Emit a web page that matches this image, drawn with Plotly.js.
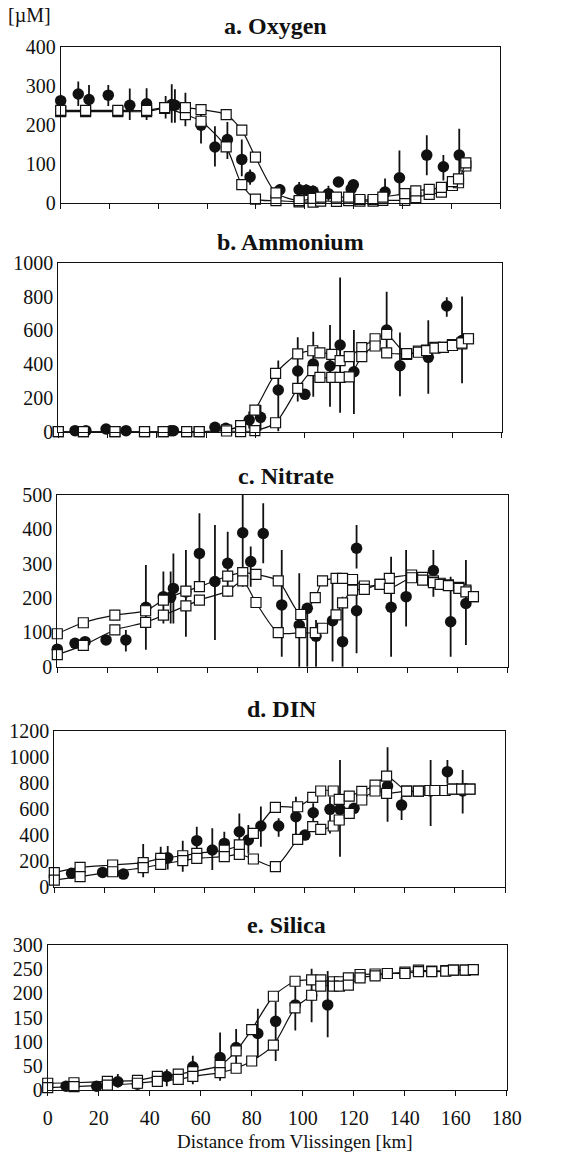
<!DOCTYPE html>
<html>
<head>
<meta charset="utf-8">
<script src="https://cdn.plot.ly/plotly-3.0.1.min.js"></script>
<style>html,body{margin:0;padding:0;background:#fff}#chart{width:565px;height:1156px}</style>
</head>
<body>
<div id="chart"></div>
<script>
// ---------- a. Oxygen ----------
var oxyObsX = [0, 7.2, 11.6, 19.5, 28.3, 35.2, 43, 45.5, 46.8, 51.1, 57.5, 63.2, 68.3, 74.2, 77.6, 89.8, 97.7, 100.6, 103.4, 109.7, 113.8, 119, 119.9, 132.9, 138.8, 150, 156.8, 163.3];
var oxyObsY = [263, 280, 266, 277, 251, 255, 245, 253, 251, 240, 200, 144, 163, 112, 67, 34, 34, 33, 30, 24, 54, 36, 47, 28, 65, 123, 93, 123];
var oxyErrUp = [15, 32, 37, 26, 43, 40, 30, 52, 41, 43, 35, 53, 45, 51, 19, 15, 20, 15, 15, 20, 12, 18, 12, 35, 70, 51, 30, 68];
var oxyErrDn = [15, 31, 27, 28, 38, 42, 28, 47, 45, 43, 47, 50, 50, 43, 20, 15, 20, 15, 15, 18, 12, 18, 12, 28, 45, 52, 35, 65];
var oxyModX = [0, 10.2, 23.4, 35.2, 42.6, 51.1, 57.5, 67.8, 74.2, 79.8, 88.2, 97.7, 103.4, 106.5, 113, 118, 122.6, 128, 132, 141, 145.5, 151, 156, 160.5, 163, 166];
var oxyMod1 = [235, 235, 235, 235, 243, 227, 210, 144, 47, 10, 6, 3, 2, 5, 4, 6, 5, 5, 7, 7, 14, 22, 28, 45, 52, 95];
var oxyMod2 = [238, 238, 238, 238, 245, 245, 240, 227, 187, 118, 26, 6, 12, 15, 15, 15, 9, 9, 15, 24, 31, 35, 40, 55, 62, 103];

// ---------- b. Ammonium ----------
var nh4ObsX = [6.8, 11.2, 19.4, 27.5, 45.6, 46.7, 63.6, 68, 77.5, 82.1, 89.3, 97.2, 100.1, 103.5, 110.3, 114.4, 120, 133.3, 138.7, 150.2, 157.7, 163.9];
var nh4ObsY = [6, 6, 16, 6, 6, 6, 26, 20, 69, 85, 247, 359, 221, 400, 389, 513, 355, 602, 390, 440, 744, 540];
var nh4ErrUp = [0, 0, 0, 0, 0, 0, 0, 0, 50, 73, 175, 200, 30, 192, 242, 400, 247, 226, 197, 220, 51, 260];
var nh4ErrDn = [0, 0, 0, 0, 0, 0, 0, 0, 50, 79, 245, 180, 30, 193, 241, 401, 250, 109, 180, 215, 64, 254];
var nh4ModX = [0, 10.2, 23, 35, 42.6, 52.1, 57.2, 68.3, 74, 79.8, 88.2, 97.2, 103.3, 106.2, 111, 114.4, 118.1, 123.2, 128.6, 133.3, 141.4, 146.2, 149.5, 152.9, 156.3, 160, 163.8, 166.5];
var nh4Mod1 = [0, 0, 0, 0, 0, 0, 0, 10, 36, 128, 345, 460, 479, 467, 458, 420, 444, 497, 550, 576, 458, 477, 483, 499, 499, 515, 520, 550];
var nh4Mod2 = [0, 0, 0, 0, 0, 0, 0, 4, 0, 6, 53, 256, 361, 321, 321, 321, 325, 444, 507, 467, 462, 470, 480, 495, 499, 510, 525, 550];

// ---------- c. Nitrate ----------
var no3ObsX = [0, 7.1, 11.1, 19.5, 27.4, 35.4, 42.4, 45.3, 46.4, 51.4, 56.8, 63, 68.1, 74.1, 77.3, 82.3, 89.7, 96.7, 99.9, 103.4, 110, 114, 119.6, 119.6, 133.4, 139.4, 150.3, 157.2, 163.3];
var no3ObsY = [51, 68, 73, 78, 78, 173, 204, 202, 228, 218, 330, 248, 301, 390, 306, 388, 180, 121, 170, 89, 134, 73, 345, 163, 173, 204, 280, 131, 184];
var no3ErrUp = [10, 0, 0, 0, 29, 123, 73, 75, 102, 122, 117, 165, 92, 120, 44, 88, 160, 151, 10, 47, 133, 131, 68, 94, 147, 136, 60, 131, 127];
var no3ErrDn = [10, 0, 0, 0, 34, 124, 78, 76, 102, 131, 107, 170, 97, 157, 73, 87, 151, 126, 175, 94, 119, 78, 59, 124, 144, 87, 76, 102, 121];
var no3ModX = [0, 10.4, 23, 35.3, 42.4, 51.4, 56.8, 68.1, 74.1, 79.4, 88.3, 97.3, 103.1, 106, 111.4, 114, 118, 122.7, 129, 132.7, 141.6, 146, 150.3, 153, 156.3, 160.5, 163.3, 166.3];
var no3Mod1 = [96, 128, 150, 163, 194, 220, 233, 264, 274, 269, 250, 152, 201, 250, 257, 257, 254, 235, 240, 257, 267, 260, 250, 243, 238, 231, 223, 204];
var no3Mod2 = [35, 62, 107, 129, 150, 177, 194, 220, 250, 187, 99, 99, 99, 112, 151, 186, 223, 225, 240, 228, 259, 252, 245, 240, 236, 228, 218, 204];

// ---------- d. DIN ----------
var dinObsX = [6.9, 19.3, 27.6, 35.5, 42.5, 45.3, 51.3, 56.9, 63.1, 67.9, 73.9, 77.5, 82.5, 89.6, 96.5, 100.1, 103.4, 110.1, 114.1, 119.7, 133.1, 138.7, 150.3, 157, 163.1];
var dinObsY = [103, 110, 97, 180, 218, 223, 230, 354, 282, 333, 423, 359, 467, 467, 538, 397, 569, 595, 595, 603, 774, 628, 736, 885, 736];
var dinErrUp = [0, 0, 0, 148, 90, 90, 124, 108, 167, 90, 141, 115, 150, 59, 154, 0, 72, 97, 379, 40, 298, 64, 238, 89, 161];
var dinErrDn = [0, 0, 0, 108, 90, 90, 115, 98, 154, 102, 90, 103, 159, 82, 179, 0, 82, 185, 364, 40, 274, 115, 269, 90, 172];
var dinModX = [0, 10.3, 23.3, 35.5, 42.5, 51.3, 56.9, 67.9, 73.9, 79.5, 88.3, 97.2, 103.2, 106.4, 111.4, 113.8, 117.8, 122.8, 128.1, 132.7, 140.7, 145.4, 150, 152, 156, 159, 162.7, 166];
var dinMod1 = [108, 149, 167, 185, 218, 238, 256, 282, 321, 410, 610, 615, 687, 736, 736, 672, 697, 733, 782, 851, 735, 735, 740, 740, 740, 750, 750, 750];
var dinMod2 = [51, 77, 115, 146, 172, 200, 218, 231, 249, 213, 155, 364, 462, 441, 467, 513, 564, 667, 736, 718, 735, 735, 740, 740, 740, 750, 750, 750];

// ---------- e. Silica ----------
var siObsX = [7.2, 19.2, 27.5, 35.2, 46.7, 56.9, 67.6, 73.9, 82.4, 89.4, 97.1, 103.5, 109.8];
var siObsY = [8, 8, 17, 12, 28, 48, 67, 88, 117, 142, 176, 196, 176];
var siErrUp = [0, 0, 16, 0, 15, 23, 52, 38, 51, 40, 41, 55, 70];
var siErrDn = [0, 0, 12, 0, 20, 36, 48, 41, 50, 82, 53, 56, 67];
var siModX = [0, 10.3, 23.4, 35.2, 43, 51.2, 56.9, 67.6, 73.9, 80, 88.5, 97, 103.5, 107.1, 112, 114.4, 117.9, 122.5, 128.4, 133.2, 140.1, 145.4, 150.6, 156.1, 159.1, 163.7, 166.9];
var siMod1 = [14, 15, 18, 20, 28, 33, 38, 51, 81, 125, 194, 225, 228, 228, 224, 224, 232, 239, 240, 241, 244, 248, 246, 247, 248, 248, 249];
var siMod2 = [5, 7, 10, 14, 18, 22, 28, 36, 45, 60, 93, 170, 196, 215, 215, 215, 217, 232, 236, 241, 241, 245, 245, 246, 248, 248, 249];

var panelTitles = ['a. Oxygen', 'b. Ammonium', 'c. Nitrate', 'd. DIN', 'e. Silica'];
var xTickVals = [0, 20, 40, 60, 80, 100, 120, 140, 160, 180];
var yRanges = [[0, 400], [0, 1000], [0, 500], [0, 1200], [0, 300]];
var yDtick = [100, 200, 100, 200, 50];

// ---------- layout geometry (pixels) ----------
var W = 565, H = 1156;
var boxes = [
  {l: 60.7, r: 500, t: 47.3, b: 203, tx: 275, ty: 26},
  {l: 58.3, r: 501.7, t: 262.7, b: 431.7, tx: 290, ty: 242},
  {l: 57.3, r: 507.7, t: 495, b: 666.7, tx: 286, ty: 476},
  {l: 54.3, r: 505, t: 730.7, b: 886.7, tx: 282, ty: 709},
  {l: 47.7, r: 506.7, t: 945, b: 1090, tx: 286, ty: 925}
];

var datasets = [
  [oxyObsX, oxyObsY, oxyErrUp, oxyErrDn, oxyModX, oxyMod1, oxyMod2],
  [nh4ObsX, nh4ObsY, nh4ErrUp, nh4ErrDn, nh4ModX, nh4Mod1, nh4Mod2],
  [no3ObsX, no3ObsY, no3ErrUp, no3ErrDn, no3ModX, no3Mod1, no3Mod2],
  [dinObsX, dinObsY, dinErrUp, dinErrDn, dinModX, dinMod1, dinMod2],
  [siObsX, siObsY, siErrUp, siErrDn, siModX, siMod1, siMod2]
];

var FONT = "'Liberation Serif', 'Times New Roman', serif";
var traces = [];
var layout = {
  width: W, height: H,
  margin: {l: 0, r: 0, t: 0, b: 0},
  paper_bgcolor: '#fff', plot_bgcolor: '#fff',
  showlegend: false,
  font: {family: FONT, size: 20, color: '#111'},
  annotations: []
};

datasets.forEach(function (d, i) {
  var n = i === 0 ? '' : String(i + 1);
  var xa = 'x' + n, ya = 'y' + n;
  var bx = boxes[i];
  traces.push({
    type: 'scatter', mode: 'markers', x: d[0], y: d[1], xaxis: xa, yaxis: ya,
    cliponaxis: false,
    marker: {symbol: 'circle', size: 11.5, color: '#111'},
    error_y: {type: 'data', symmetric: false, array: d[2], arrayminus: d[3], width: 0, thickness: 1.8, color: '#111'}
  });
  [d[5], d[6]].forEach(function (ys) {
    traces.push({
      type: 'scatter', mode: 'lines+markers', x: d[4], y: ys, xaxis: xa, yaxis: ya,
      cliponaxis: false,
      line: {color: '#111', width: 1.2, shape: 'spline', smoothing: 0.7},
      marker: {symbol: 'square', size: 10, color: '#fff', line: {color: '#111', width: 1.2}}
    });
  });
  layout['xaxis' + n] = {
    domain: [bx.l / W, bx.r / W], anchor: ya,
    range: [0, 180], tickvals: xTickVals, ticktext: xTickVals.map(String),
    showticklabels: i === 4, ticks: 'outside', ticklen: 5, tickwidth: 1, tickcolor: '#111',
    ticklabelstandoff: 5,
    showline: true, mirror: true, linecolor: '#111', linewidth: 1,
    showgrid: false, zeroline: false, fixedrange: true,
    tickfont: {family: FONT, size: 20, color: '#111'}
  };
  layout['yaxis' + n] = {
    domain: [1 - bx.b / H, 1 - bx.t / H], anchor: xa,
    range: yRanges[i], dtick: yDtick[i], tick0: 0,
    ticks: '', showline: true, mirror: true, linecolor: '#111', linewidth: 1,
    showgrid: false, zeroline: false, fixedrange: true,
    tickfont: {family: FONT, size: 20, color: '#111'}
  };
  layout.annotations.push({
    text: '<b>' + panelTitles[i] + '</b>', xref: 'paper', yref: 'paper',
    x: bx.tx / W, y: 1 - bx.ty / H, xanchor: 'center', yanchor: 'middle',
    showarrow: false, font: {family: FONT, size: 24, color: '#111'}
  });
});

layout.annotations.push({
  text: '[µM]', xref: 'paper', yref: 'paper', x: 6 / W, y: 1 - 16 / H,
  xanchor: 'left', yanchor: 'middle', showarrow: false,
  font: {family: FONT, size: 20, color: '#111'}
});
layout.annotations.push({
  text: 'Distance from Vlissingen [km]', xref: 'paper', yref: 'paper',
  x: 295 / W, y: 2 / H, xanchor: 'center', yanchor: 'bottom', showarrow: false,
  font: {family: FONT, size: 19, color: '#111'}
});

Plotly.newPlot('chart', traces, layout, {staticPlot: true, displayModeBar: false});
</script>
</body>
</html>
